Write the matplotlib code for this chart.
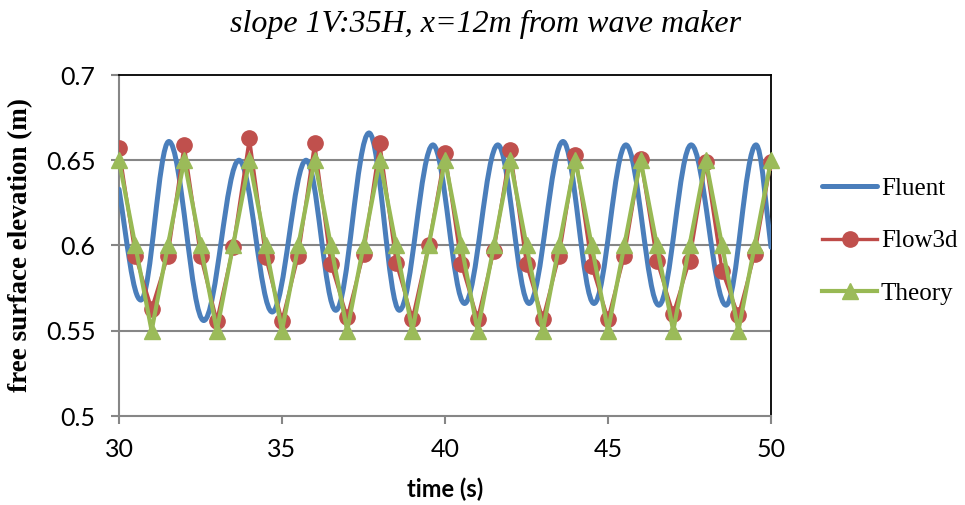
import matplotlib
matplotlib.use("Agg")
import matplotlib.pyplot as plt
from matplotlib.path import Path
from matplotlib.patches import PathPatch
from matplotlib.lines import Line2D
import numpy as np

# ---------------- data ----------------
title = "slope 1V:35H, x=12m from wave maker"
xlabel = "time (s)"
ylabel = "free surface elevation (m)"
series_names = ["Fluent", "Flow3d", "Theory"]

# Fluent: start/end points and local extremes of the smooth curve
fluent_t = [30.0, 30.67, 31.53, 32.6, 33.68, 34.7, 35.74, 36.65, 37.67, 38.6,
            39.63, 40.6, 41.62, 42.58, 43.62, 44.57, 45.55, 46.56, 47.55,
            48.62, 49.54, 50.0]
fluent_v = [0.633, 0.568, 0.661, 0.556, 0.650, 0.561, 0.650, 0.562, 0.666,
            0.562, 0.659, 0.566, 0.659, 0.566, 0.661, 0.566, 0.659, 0.565,
            0.659, 0.565, 0.659, 0.599]

sample_t = [30.0, 30.5, 31.0, 31.5, 32.0, 32.5, 33.0, 33.5, 34.0, 34.5, 35.0,
            35.5, 36.0, 36.5, 37.0, 37.5, 38.0, 38.5, 39.0, 39.5, 40.0, 40.5,
            41.0, 41.5, 42.0, 42.5, 43.0, 43.5, 44.0, 44.5, 45.0, 45.5, 46.0,
            46.5, 47.0, 47.5, 48.0, 48.5, 49.0, 49.5, 50.0]
flow3d_v = [0.657, 0.594, 0.563, 0.594, 0.659, 0.594, 0.556, 0.599, 0.663,
            0.593, 0.556, 0.594, 0.660, 0.589, 0.558, 0.595, 0.660, 0.590,
            0.557, 0.600, 0.654, 0.589, 0.557, 0.597, 0.656, 0.589, 0.557,
            0.594, 0.653, 0.588, 0.557, 0.594, 0.651, 0.591, 0.560, 0.591,
            0.649, 0.585, 0.559, 0.595, 0.649]
theory_v = [0.65, 0.60, 0.55, 0.60, 0.65, 0.60, 0.55, 0.60, 0.65, 0.60, 0.55,
            0.60, 0.65, 0.60, 0.55, 0.60, 0.65, 0.60, 0.55, 0.60, 0.65, 0.60,
            0.55, 0.60, 0.65, 0.60, 0.55, 0.60, 0.65, 0.60, 0.55, 0.60, 0.65,
            0.60, 0.55, 0.60, 0.65, 0.60, 0.55, 0.60, 0.65]

xticks = [30, 35, 40, 45, 50]
xtick_labels = ["30", "35", "40", "45", "50"]
yticks = [0.5, 0.55, 0.6, 0.65, 0.7]
ytick_labels = ["0.5", "0.55", "0.6", "0.65", "0.7"]

# ---------------- style ----------------
c_fluent = "#4A7EBB"
c_flow_line = "#BE4B48"
c_flow_mark = "#C0504D"
c_theory_line = "#98B954"
c_theory_mark = "#9BBB59"
grid_c = "#868686"

tick_font = "Lato"
serif = "Liberation Serif"

fig = plt.figure(figsize=(9.65, 5.05), dpi=100)
ax = fig.add_axes([119 / 965, 1 - 416 / 505, (771 - 119) / 965, (416 - 75) / 505])

# smooth Fluent curve (Hermite -> cubic Bezier, flat tangents at extremes)
def smooth_path(ts, vs):
    n = len(ts)
    m = [0.0] * n
    m[0] = 1.25 * (vs[1] - vs[0]) / (ts[1] - ts[0])
    m[-1] = 1.15 * (vs[-1] - vs[-2]) / (ts[-1] - ts[-2])
    verts = [(ts[0], vs[0])]
    codes = [Path.MOVETO]
    k = 0.36
    for i in range(n - 1):
        dt = ts[i + 1] - ts[i]
        verts += [(ts[i] + k * dt, vs[i] + m[i] * k * dt),
                  (ts[i + 1] - k * dt, vs[i + 1] - m[i + 1] * k * dt),
                  (ts[i + 1], vs[i + 1])]
        codes += [Path.CURVE4] * 3
    return Path(verts, codes)

patch = PathPatch(smooth_path(fluent_t, fluent_v), fill=False, edgecolor=c_fluent,
                  lw=3.6, capstyle="round", joinstyle="round", zorder=3)
ax.add_patch(patch)

ax.plot(sample_t, flow3d_v, color=c_flow_line, lw=2.4, marker="o", markersize=11,
        markerfacecolor=c_flow_mark, markeredgecolor=c_flow_mark, zorder=4,
        solid_joinstyle="round")
ax.plot(sample_t, theory_v, color=c_theory_line, lw=3.0, marker="^", markersize=12,
        markerfacecolor=c_theory_mark, markeredgecolor=c_theory_mark, zorder=5,
        solid_joinstyle="round", clip_on=False)

ax.set_xlim(30, 50)
ax.set_ylim(0.5, 0.7)
ax.set_xticks(xticks)
ax.set_xticklabels(xtick_labels)
ax.set_yticks(yticks)
ax.set_yticklabels(ytick_labels)
for y in yticks[1:-1]:
    ax.axhline(y, color=grid_c, lw=1.5, zorder=1)

for s in ["left", "bottom"]:
    ax.spines[s].set_color(grid_c)
    ax.spines[s].set_linewidth(1.5)
for s in ["top", "right"]:
    ax.spines[s].set_color("black")
    ax.spines[s].set_linewidth(1.3)

ax.tick_params(axis="both", which="major", length=6, width=1.5, color=grid_c,
               labelsize=18)
for lab in ax.get_xticklabels() + ax.get_yticklabels():
    lab.set_fontfamily(tick_font)
ax.tick_params(axis="x", pad=10)
ax.tick_params(axis="y", pad=11)

ax.set_xlabel(xlabel, fontsize=17, fontweight="bold", family=tick_font, labelpad=12)
ax.set_ylabel(ylabel, fontsize=19.5, fontweight="bold", family=serif, labelpad=9)

fig.text(486 / 965, 1 - 24 / 505, title, ha="center", va="center", fontsize=23,
         style="italic", family=serif)

handles = [
    Line2D([], [], color=c_fluent, lw=3.6, solid_capstyle="round"),
    Line2D([], [], color=c_flow_line, lw=2.4, marker="o", markersize=11,
           markerfacecolor=c_flow_mark, markeredgecolor=c_flow_mark),
    Line2D([], [], color=c_theory_line, lw=3.0, marker="^", markersize=12,
           markerfacecolor=c_theory_mark, markeredgecolor=c_theory_mark),
]
leg = fig.legend(handles, series_names, loc="center left",
                 bbox_to_anchor=(812 / 965, 1 - 241 / 505), frameon=False,
                 prop={"family": serif, "size": 18}, handlelength=2.2,
                 handletextpad=0.15, labelspacing=1.2, borderaxespad=0)

fig.savefig("out.png", dpi=100)
